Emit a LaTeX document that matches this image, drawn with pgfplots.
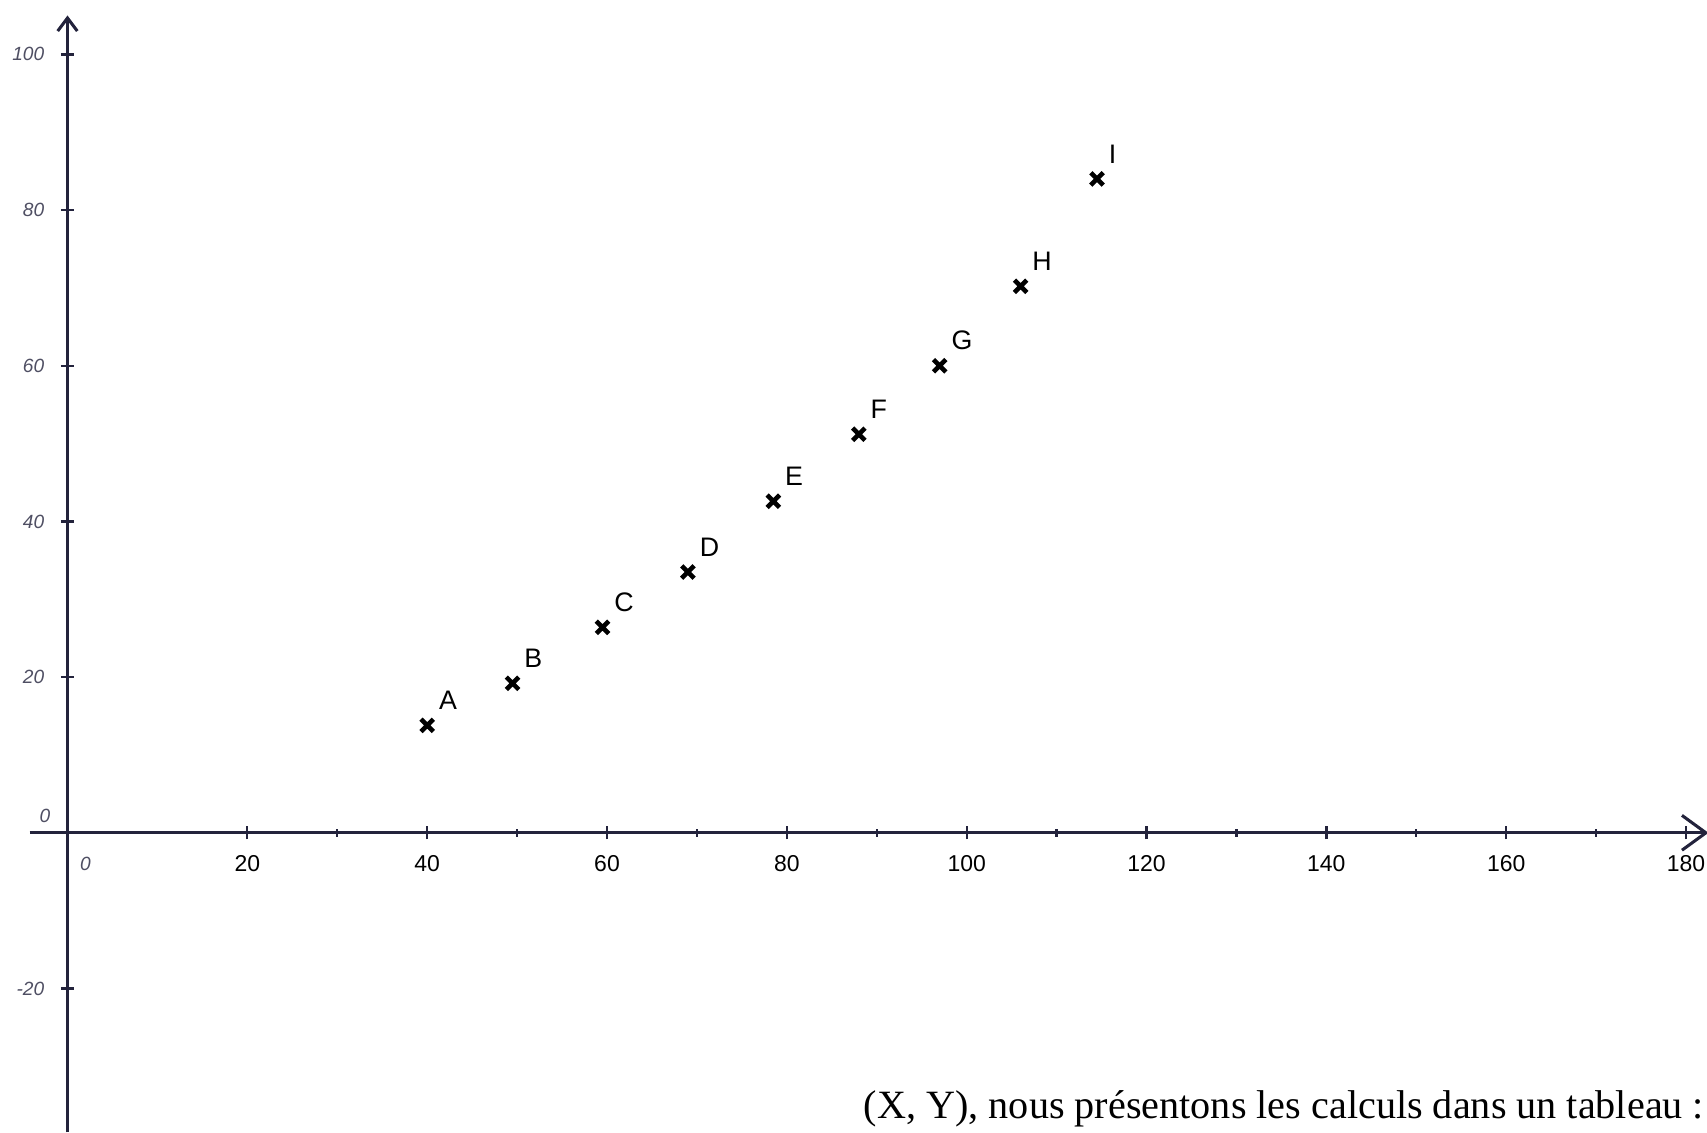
\documentclass[border=0pt]{standalone}
\usepackage{pgfplots}
\pgfplotsset{compat=1.18}
\usepackage{pgfplotstable}
\usetikzlibrary{arrows.meta}
\usepackage{fontspec}
\setmainfont{Liberation Serif}
\setsansfont{Liberation Sans}
\definecolor{axiscol}{RGB}{35,35,60}
\pgfplotstableread{
x y lab
40 13.8 A
49.5 19.2 B
59.5 26.4 C
69 33.5 D
78.5 42.6 E
88 51.2 F
97 60 G
106 70.2 H
114.5 84 I
}\pts
\begin{document}
\begin{tikzpicture}
\useasboundingbox (0,0) rectangle (15.68cm,10.40cm);
\begin{axis}[
  at={(0.2731cm,-0.0028cm)}, anchor=south west,
  x=0.0826cm, y=0.0715cm,
  xmin=-4.2, xmax=182.5, ymin=-38.5, ymax=105,
  axis lines=middle,
  x axis line style={axiscol, line width=0.8pt, -{Straight Barb[length=2.2mm,width=3.2mm,line width=0.8pt]}},
  y axis line style={axiscol, line width=0.8pt, -{Straight Barb[length=1.2mm,width=1.8mm]}},
  xtick={20,40,...,180},
  ytick={-20,20,40,60,80,100},
  minor x tick num=1, minor y tick num=1,
  major tick length=0.12cm, minor tick length=0.07cm,
  tick style={axiscol, line width=0.6pt},
  xticklabel style={font=\sffamily\fontsize{6}{7}\selectfont, yshift=-0.02cm},
  yticklabel style={font=\sffamily\itshape\fontsize{5}{6}\selectfont, text=axiscol!80, xshift=-0.03cm},
  /pgf/number format/assume math mode=true,
  clip=false,
]
\addplot[only marks, mark=x, mark size=2.3pt, line width=1.2pt, black,
  nodes near coords, point meta=explicit symbolic,
  every node near coord/.append style={font=\sffamily\fontsize{7}{8}\selectfont, anchor=south west, inner sep=0pt, xshift=2.5pt, yshift=3.5pt}]
  table[x=x, y=y, meta=lab] {\pts};
\node[font=\sffamily\itshape\fontsize{5}{6}\selectfont, text=axiscol!80] at (axis cs:-2.5,2.2) {0};
\node[font=\sffamily\itshape\fontsize{5}{6}\selectfont, text=axiscol!80] at (axis cs:2,-4) {0};
\end{axis}
\node[anchor=south east, inner sep=0pt, font=\fontsize{10.5}{12}\selectfont] at (15.66cm,0.04cm) {(X, Y), nous présentons les calculs dans un tableau :};
\end{tikzpicture}
\end{document}
